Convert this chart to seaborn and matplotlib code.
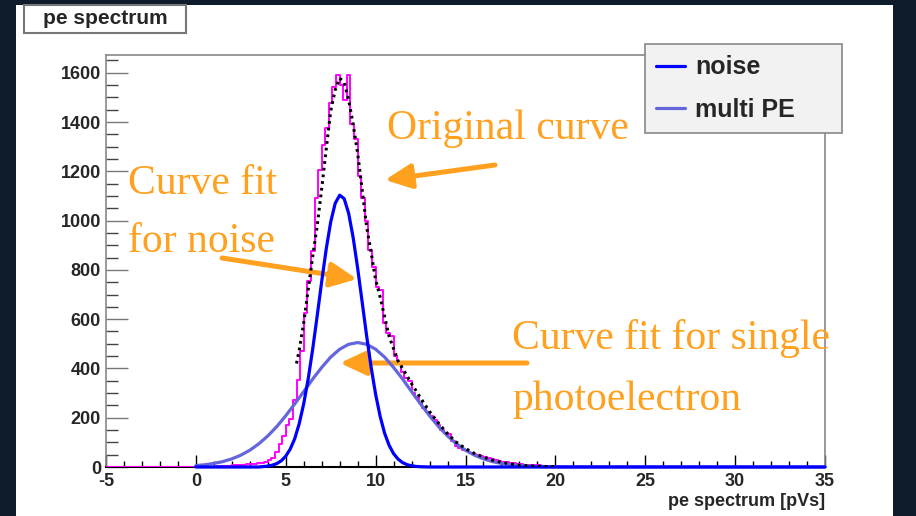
import numpy as np
import pandas as pd
import matplotlib
matplotlib.use("Agg")
import matplotlib.pyplot as plt
import seaborn as sns
from matplotlib.patches import Rectangle
from matplotlib.lines import Line2D
from matplotlib.ticker import MultipleLocator

# ---------------- data ----------------
x_ticks = [-5, 0, 5, 10, 15, 20, 25, 30, 35]
y_ticks = [0, 200, 400, 600, 800, 1000, 1200, 1400, 1600]

bin_width = 0.2
hist_start = 0.0   # first listed bin's low edge
hist_counts = [
    1, 1, 1, 2, 2, 2, 3, 4, 5, 6,
    7, 8, 9, 10, 11, 12, 13, 15, 18, 22,
    30, 35, 60, 95, 125, 170, 195, 270, 355, 470,
    625, 755, 875, 1090, 1206, 1307, 1375, 1477, 1544, 1589,
    1551, 1490, 1589, 1390, 1330, 1180, 1090, 1000, 880, 810,
    730, 720, 585, 545, 530, 450, 420, 385, 360, 350,
    300, 285, 260, 240, 225, 205, 190, 172, 150, 140,
    135, 105, 85, 78, 70, 65, 58, 52, 50, 44,
    42, 38, 33, 30, 26, 22, 20, 18, 15, 13,
    12, 10, 9, 8, 8, 7, 6, 5, 4, 3,
    3, 2, 2, 1, 1, 1, 1, 1, 0, 0,
]

noise_x = [0.0, 3.5, 3.75, 4.0, 4.25, 4.5, 4.75, 5.0, 5.25, 5.5, 5.75, 6.0, 6.25,
           6.5, 6.75, 7.0, 7.25, 7.5, 7.75, 8.0, 8.25, 8.5, 8.75, 9.0, 9.25,
           9.5, 9.75, 10.0, 10.25, 10.5, 10.75, 11.0, 11.25, 11.5, 11.75, 12.0,
           12.25, 12.5, 12.75, 13.0, 35.0]
noise_y = [0.0, 0.0, 1.8, 3.7, 7.3, 13.9, 25, 44, 73, 115, 176, 257, 358,
           479, 614, 753, 884, 994, 1070, 1103, 1089, 1029, 931, 807, 670,
           532, 405, 295, 206, 137, 88, 54, 32, 17.7, 9.5, 4.9,
           2.4, 1.1, 0.5, 0.0, 0.0]

multi_x = [0.0, 0.5, 1.0, 1.5, 2.0, 2.5, 3.0, 3.5, 4.0, 4.5, 5.0, 5.5, 6.0, 6.5,
           7.0, 7.5, 8.0, 8.5, 9.0, 9.5, 10.0, 10.5, 11.0, 11.5, 12.0, 12.5,
           13.0, 13.5, 14.0, 14.5, 15.0, 15.5, 16.0, 16.5, 17.0, 17.5, 18.0,
           18.5, 19.0, 19.5, 20.0, 35.0]
multi_y = [5.6, 9.2, 14.4, 22, 33, 48, 68, 94, 126, 164, 208, 256, 306, 357,
           404, 446, 478, 498, 505, 498, 478, 446, 404, 357, 306, 256,
           208, 164, 126, 94, 68, 48, 33, 22, 14.4, 9.2, 5.6,
           3.4, 2.0, 1.1, 0.6, 0.0]

total_x = [5.6, 5.75, 6.0, 6.25, 6.5, 6.75, 7.0, 7.25, 7.5, 7.75, 8.0, 8.25, 8.5,
           8.75, 9.0, 9.25, 9.5, 9.75, 10.0, 10.25, 10.5, 10.75, 11.0, 11.25,
           11.5, 11.75, 12.0, 12.5, 13.0, 13.5, 14.0, 14.5, 15.0, 15.5, 16.0,
           16.5, 17.0, 17.5, 18.0, 18.5, 19.0, 19.5, 20.0]
total_y = [420, 475, 585, 720, 855, 980, 1130, 1290, 1445, 1530, 1578, 1560, 1490,
           1390, 1273, 1125, 975, 870, 760, 690, 610, 530, 480, 430,
           400, 370, 338, 280, 225, 178, 135, 100, 75, 55, 40,
           28, 19, 13, 8, 5, 3, 2, 1]

legend_labels = ["noise", "multi PE"]
title_text = "pe spectrum"
xlabel_text = "pe spectrum [pVs]"
notes = ["Original curve", "Curve fit", "for noise", "Curve fit for single", "photoelectron"]

# ---------------- style ----------------
sns.set_style("ticks")
plt.rcParams['font.family'] = ['Liberation Sans', 'DejaVu Sans']

W, H = 916, 516
fig = plt.figure(figsize=(W / 100, H / 100), dpi=100, facecolor='#0f1c2b')
fig.patches.append(Rectangle((16 / W, 0), (893 - 16) / W, (H - 5) / H,
                             transform=fig.transFigure, facecolor='white',
                             edgecolor='none', zorder=-10))

ax = fig.add_axes([106 / W, (H - 467) / H, (825 - 106) / W, (467 - 55) / H])
ax.set_facecolor('white')

# histogram
n_bins = int(round(40 / bin_width))
counts = np.zeros(n_bins)
i0 = int(round((hist_start + 5) / bin_width))
counts[i0:i0 + len(hist_counts)] = hist_counts
centers = -5 + bin_width * (np.arange(n_bins) + 0.5)
hist_df = pd.DataFrame({"x": centers, "w": counts})
sns.histplot(data=hist_df, x="x", weights="w", binwidth=bin_width, binrange=(-5, 35),
             element="step", fill=False, color='#ff00ff', linewidth=1.4, ax=ax, zorder=3)

BLUE = '#0000ff'
LAV = '#6565dc'
sns.lineplot(x=multi_x, y=multi_y, color=LAV, linewidth=2.3, ax=ax,
             errorbar=None, zorder=4, clip_on=False)
sns.lineplot(x=noise_x, y=noise_y, color=BLUE, linewidth=2.3, ax=ax,
             errorbar=None, zorder=5, clip_on=False)
sns.lineplot(x=total_x, y=total_y, color='black', linewidth=2.2,
             linestyle=(0, (0.9, 1.3)), ax=ax, errorbar=None, zorder=6)

ax.set_xlim(-5, 35)
ax.set_ylim(0, 1672)
ax.set_xticks(x_ticks)
ax.set_yticks(y_ticks)
ax.set_xticklabels([str(v) for v in x_ticks], fontweight='bold', fontsize=13)
ax.set_yticklabels([str(v) for v in y_ticks], fontweight='bold', fontsize=13)
ax.xaxis.set_minor_locator(MultipleLocator(1))
ax.yaxis.set_minor_locator(MultipleLocator(50))
ax.tick_params(axis='x', which='major', direction='in', length=8.6, width=1.0,
               color='black', pad=4.0, top=False)
ax.tick_params(axis='x', which='minor', direction='in', length=4.3, width=1.0,
               color='black', top=False)
ax.tick_params(axis='y', which='major', direction='in', length=15.5, width=1.0,
               color='#777777', pad=3.6, right=False)
ax.tick_params(axis='y', which='minor', direction='in', length=8.6, width=1.0,
               color='#444444', right=False)
for side in ['top', 'right', 'left']:
    ax.spines[side].set_color('#888888')
    ax.spines[side].set_linewidth(1.2)
ax.spines['bottom'].set_color('black')
ax.spines['bottom'].set_linewidth(1.5)

ax.set_xlabel(xlabel_text, fontsize=13, fontweight='bold', loc='right')
ax.xaxis.set_label_coords(1.0, -(493 - 467) / (467 - 55))
ax.xaxis.label.set_ha('right')
ax.xaxis.label.set_va('top')
ax.set_ylabel('')

# legend
handles = [Line2D([], [], color=BLUE, lw=2.3), Line2D([], [], color=LAV, lw=2.3)]
leg = fig.legend(handles, legend_labels, loc='upper left',
                 bbox_to_anchor=(645 / W, 1 - 133 / H, 197 / W, 89 / H),
                 bbox_transform=fig.transFigure, mode='expand',
                 prop=dict(weight='bold', size=18), frameon=True, fancybox=False,
                 facecolor='#f2f2f2', edgecolor='#888888', framealpha=1,
                 borderpad=0.45, handlelength=1.15, handletextpad=0.4,
                 labelspacing=0.75, borderaxespad=0)
leg.get_frame().set_linewidth(1.2)

# title box
fig.patches.append(Rectangle((24 / W, 1 - 33 / H), 162 / W, 28 / H,
                             transform=fig.transFigure, facecolor='white',
                             edgecolor='#777777', lw=1.5, zorder=5))
fig.text(105 / W, 1 - 19 / H, title_text, ha='center', va='center',
         fontsize=15, fontweight='bold', zorder=6)

# annotations
ORANGE = '#ffa01e'
serif = ['Liberation Serif', 'DejaVu Serif']
note_pos = [(387, 139), (128, 194), (128, 252), (512, 349), (512, 410)]
for s, (px, py) in zip(notes, note_pos):
    fig.text(px / W, 1 - py / H, s, color=ORANGE, family=serif, fontsize=30,
             ha='left', va='baseline')

arrows = [((495, 165), (385, 180)), ((222, 258), (357, 279)), ((527, 363), (340, 363))]
for (sx, sy), (tx, ty) in arrows:
    ax.annotate('', xy=(tx, H - ty), xytext=(sx, H - sy),
                xycoords='figure pixels', textcoords='figure pixels',
                arrowprops=dict(arrowstyle='-|>,head_length=1.6,head_width=0.75',
                                lw=3.6, color=ORANGE, shrinkA=0, shrinkB=0,
                                mutation_scale=10),
                annotation_clip=False)

fig.savefig('out.png', dpi=100, facecolor=fig.get_facecolor())
